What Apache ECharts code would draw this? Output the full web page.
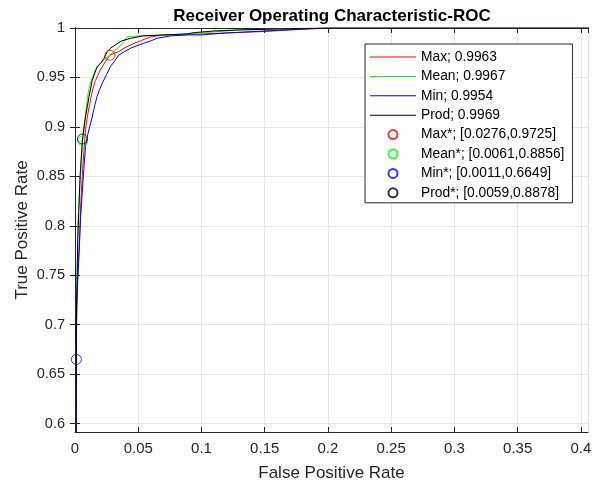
<!DOCTYPE html>
<html>
<head>
<meta charset="utf-8">
<script src="https://cdn.jsdelivr.net/npm/echarts@6/dist/echarts.min.js"></script>
<style>
  html, body { margin: 0; padding: 0; background: #fff; }
  #chart { width: 600px; height: 485px; }
</style>
</head>
<body>
<div id="chart"></div>
<script>
// ROC curves
const maxFpr = [0, 0.0008, 0.0012, 0.002, 0.0036, 0.0045, 0.0057, 0.0070, 0.0083, 0.0100, 0.0122, 0.0140, 0.0162, 0.0180, 0.0201, 0.0240, 0.0276, 0.0310, 0.0346, 0.0380, 0.0410, 0.0460, 0.0517, 0.0596, 0.0700, 0.0900, 0.1200, 0.1500, 0.1700, 0.2000, 1]
const maxTpr = [0, 0.55, 0.70, 0.75, 0.786, 0.82, 0.85, 0.875, 0.897, 0.912, 0.927, 0.938, 0.947, 0.952, 0.9576, 0.966, 0.9725, 0.9745, 0.976, 0.979, 0.981, 0.984, 0.987, 0.991, 0.993, 0.9935, 0.995, 0.9965, 0.998, 1, 1]

const meanFpr = [0, 0.0008, 0.0012, 0.0017, 0.0022, 0.0040, 0.0061, 0.0075, 0.0090, 0.0105, 0.0122, 0.0140, 0.0160, 0.0200, 0.0240, 0.0306, 0.0350, 0.0386, 0.0410, 0.0500, 0.0700, 0.0900, 0.1100, 0.1300, 0.1600, 0.2000, 1]
const meanTpr = [0, 0.55, 0.70, 0.75, 0.80, 0.845, 0.8856, 0.905, 0.920, 0.935, 0.944, 0.951, 0.957, 0.964, 0.969, 0.976, 0.981, 0.986, 0.991, 0.992, 0.993, 0.994, 0.996, 0.998, 0.999, 1, 1]

const minFpr = [0, 0.0008, 0.0011, 0.0013, 0.0022, 0.003, 0.0038, 0.0045, 0.0057, 0.0070, 0.0083, 0.0100, 0.0120, 0.0136, 0.0155, 0.0175, 0.0195, 0.0215, 0.0250, 0.0280, 0.0310, 0.0346, 0.0390, 0.0438, 0.0490, 0.0543, 0.0600, 0.0650, 0.0754, 0.0900, 0.1000, 0.1200, 0.1500, 0.1800, 0.2000, 1]
const minTpr = [0, 0.55, 0.6649, 0.72, 0.745, 0.765, 0.79, 0.81, 0.833, 0.858, 0.880, 0.892, 0.902, 0.910, 0.921, 0.931, 0.938, 0.944, 0.953, 0.961, 0.966, 0.9727, 0.976, 0.9795, 0.982, 0.9845, 0.987, 0.9896, 0.992, 0.993, 0.993, 0.995, 0.997, 0.999, 1, 1]

const prodFpr = [0, 0.0008, 0.0010, 0.0017, 0.0022, 0.0040, 0.0059, 0.0083, 0.0110, 0.0136, 0.0175, 0.0200, 0.0228, 0.0250, 0.0280, 0.0320, 0.0370, 0.0440, 0.0540, 0.0700, 0.0886, 0.0940, 0.1100, 0.1280, 0.1600, 0.2000, 1]
const prodTpr = [0, 0.55, 0.70, 0.75, 0.786, 0.85, 0.8878, 0.910, 0.930, 0.947, 0.961, 0.964, 0.969, 0.975, 0.9795, 0.983, 0.987, 0.9896, 0.992, 0.993, 0.994, 0.9953, 0.997, 0.998, 0.999, 1, 1]

const curveNames = ['Max; 0.9963', 'Mean; 0.9967', 'Min; 0.9954', 'Prod; 0.9969']
const pointNames = ['Max*; [0.0276,0.9725]', 'Mean*; [0.0061,0.8856]', 'Min*; [0.0011,0.6649]', 'Prod*; [0.0059,0.8878]']
const pointValues = [[0.0276, 0.9725], [0.0061, 0.8856], [0.0011, 0.6649], [0.0059, 0.8878]]
const colors = ['#ff0000', '#00ff00', '#0000ff', '#000000']

const yTicks = [0.6, 0.65, 0.7, 0.75, 0.8, 0.85, 0.9, 0.95, 1]

const curves = [[maxFpr, maxTpr], [meanFpr, meanTpr], [minFpr, minTpr], [prodFpr, prodTpr]]

const font = "'Liberation Sans', Arial, Helvetica, sans-serif"
const axisColor = '#262626'

const chart = echarts.init(document.getElementById('chart'))

const lineSeries = curves.map(([fpr, tpr], i) => ({
  name: curveNames[i],
  type: 'line',
  data: fpr.map((x, k) => [x, tpr[k]]),
  symbol: 'none',
  lineStyle: { color: colors[i], width: 1 },
  itemStyle: { color: colors[i] },
  clip: true,
  z: i === 3 ? 4 : 3,
}))

const pointSeries = pointValues.map((p, i) => ({
  name: pointNames[i],
  type: 'scatter',
  data: [p],
  symbol: 'circle',
  symbolSize: 10,
  itemStyle: { color: 'rgba(255,255,255,0)', borderColor: colors[i], borderWidth: 1 },
  z: 5,
}))

const tickStyle = { show: true, inside: true, length: 5, lineStyle: { color: axisColor } }

chart.setOption({
  animation: false,
  textStyle: { fontFamily: font },
  title: {
    text: 'Receiver Operating Characteristic-ROC',
    left: 327,
    top: 3,
    textAlign: 'center',
    textStyle: { fontSize: 17, fontWeight: 'bold', color: '#000', fontFamily: font },
  },
  grid: { left: 75, right: 12, top: 28, bottom: 53, containLabel: false, outerBoundsMode: 'none' },
  legend: {
    orient: 'vertical',
    left: 365,
    top: 44,
    padding: [6, 8, 3, 5],
    itemWidth: 46,
    itemHeight: 9,
    itemGap: 5.4,
    borderColor: axisColor,
    borderWidth: 1,
    backgroundColor: '#fff',
    textStyle: { fontSize: 13.8, lineHeight: 14, color: '#000', fontFamily: font },
    data: curveNames.map((n) => ({ name: n, icon: 'path://M0,0H46V1H0Z' }))
      .concat(pointNames.map((n) => ({ name: n, icon: 'circle' }))),
  },
  xAxis: [
    {
      type: 'value',
      min: 0,
      max: 0.4056,
      interval: 0.05,
      position: 'bottom',
      name: 'False Positive Rate',
      nameLocation: 'middle',
      nameGap: 33,
      nameMoveOverlap: false,
      nameTextStyle: { fontSize: 17, color: axisColor, fontFamily: font },
      axisLine: { show: true, lineStyle: { color: axisColor } },
      axisTick: tickStyle,
      axisLabel: { fontSize: 15, color: axisColor, margin: 9, showMaxLabel: false },
      splitLine: { show: true, lineStyle: { color: '#e6e6e6' } },
    },
    {
      type: 'value',
      min: 0,
      max: 0.4056,
      interval: 0.05,
      position: 'top',
      axisLine: { show: true, lineStyle: { color: axisColor } },
      axisTick: tickStyle,
      axisLabel: { show: false },
      splitLine: { show: false },
    },
  ],
  yAxis: [
    {
      type: 'value',
      min: 0.5915,
      max: 1,
      position: 'left',
      name: 'True Positive Rate',
      nameLocation: 'middle',
      nameGap: 44,
      nameMoveOverlap: false,
      nameTextStyle: { fontSize: 17, color: axisColor, fontFamily: font },
      axisLine: { show: true, lineStyle: { color: axisColor } },
      axisTick: Object.assign({ customValues: yTicks }, tickStyle),
      axisLabel: { fontSize: 14.5, color: axisColor, margin: 10, customValues: yTicks },
      splitLine: { show: true, lineStyle: { color: '#e6e6e6' } },
    },
    {
      type: 'value',
      min: 0.5915,
      max: 1,
      position: 'right',
      axisLine: { show: true, lineStyle: { color: axisColor } },
      axisTick: Object.assign({ customValues: yTicks }, tickStyle),
      axisLabel: { show: false },
      splitLine: { show: false },
    },
  ],
  series: lineSeries.concat(pointSeries),
})
</script>
</body>
</html>
